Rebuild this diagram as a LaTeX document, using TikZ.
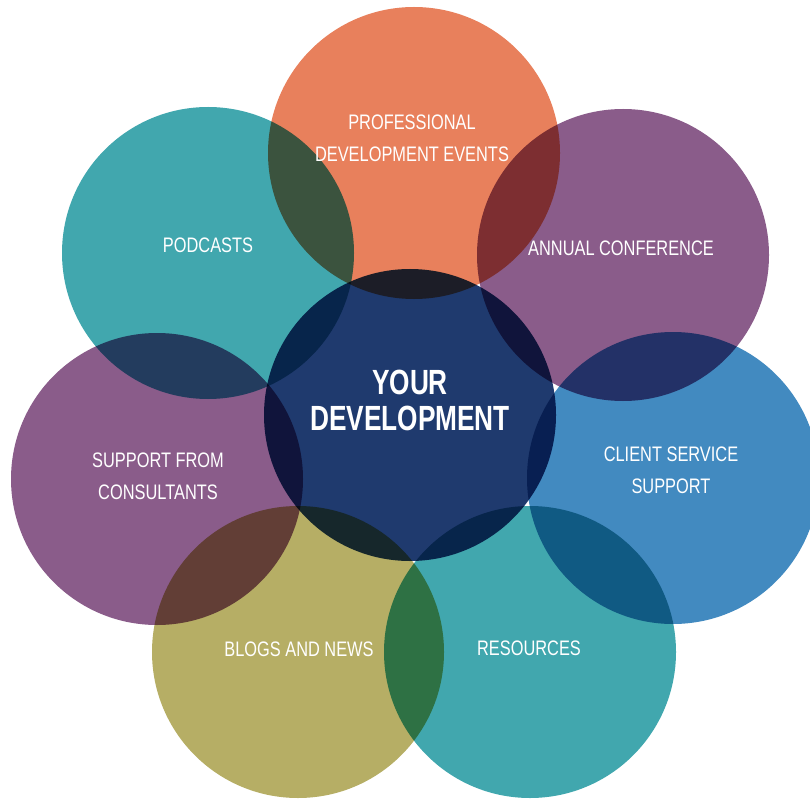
\documentclass[tikz,border=0pt]{standalone}
\usepackage{fontspec}
\setmainfont{Liberation Sans}
\newfontfamily\labelfont[FakeStretch=0.78]{Liberation Sans}
\newfontfamily\titlefont[FakeStretch=0.75]{Liberation Sans}
\usetikzlibrary{positioning}
\definecolor{cteal}{HTML}{41A7AE}
\definecolor{corange}{HTML}{E8805C}
\definecolor{cpurple}{HTML}{8A5C8A}
\definecolor{cnavy}{HTML}{1F3A6E}
\definecolor{cblue}{HTML}{428AC0}
\definecolor{colive}{HTML}{B6AE65}
\tikzset{
  bubble/.style={circle, inner sep=0pt, minimum size=292pt, draw=none},
  lbl/.style={text=white, align=center, font={\labelfont\fontsize{21}{32}\selectfont}},
  ttl/.style={text=white, align=center, font={\titlefont\bfseries\fontsize{35}{36}\selectfont}}
}
\begin{document}
\begin{tikzpicture}[x=1pt,y=-1pt]
\useasboundingbox (0,0) rectangle (810,799);
\begin{scope}[blend group=multiply]
  \node[bubble, fill=corange] (pde) at (414,153) {};
  \node[bubble, fill=cteal]   (pod) at (208,253) {};
  \node[bubble, fill=cpurple] (ann) at (623,255) {};
  \node[bubble, fill=cpurple] (sup) at (157,479) {};
  \node[bubble, fill=cblue]   (cli) at (673,478) {};
  \node[bubble, fill=colive]  (blg) at (298,652) {};
  \node[bubble, fill=cteal]   (res) at (530,652) {};
  \node[bubble, fill=cnavy]   (dev) at (410,415) {};
\end{scope}
\node[lbl] (tpde) at (412,138) {PROFESSIONAL\\DEVELOPMENT EVENTS};
\node[lbl] (tpod) at (208,245) {PODCASTS};
\node[lbl] (tann) at (621,248) {ANNUAL CONFERENCE};
\node[lbl] (tsup) at (158,476) {SUPPORT FROM\\CONSULTANTS};
\node[lbl] (tcli) at (671,470) {CLIENT SERVICE\\SUPPORT};
\node[lbl] (tblg) at (299,649) {BLOGS AND NEWS};
\node[lbl] (tres) at (529,648) {RESOURCES};
\node[ttl] (tdev) at (410,400) {YOUR\\DEVELOPMENT};
\end{tikzpicture}
\end{document}
